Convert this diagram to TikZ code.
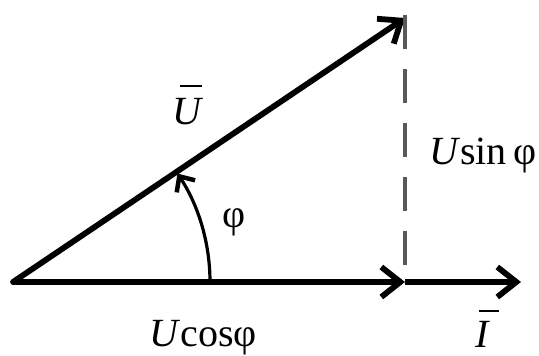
\documentclass[tikz,border=0pt]{standalone}
\usepackage{fontspec}
\setmainfont{Liberation Serif}
\usetikzlibrary{arrows.meta}
\newcommand\ovbar[4]{\leavevmode\rlap{\hspace{#2}\rule[#3]{#4}{0.05em}}#1}
\begin{document}
\begin{tikzpicture}[x=1pt,y=1pt,
  vec/.style={line width=5.8pt,-{Straight Barb[length=19pt,width=30pt,line width=5.8pt]}},
  angarc/.style={line width=3.2pt,-{Straight Barb[length=12pt,width=22pt,line width=4.5pt]}},
  proj/.style={line width=4pt,black!65,dash pattern=on 34pt off 20pt},
  lbl/.style={inner sep=0pt,anchor=base,font=\fontsize{40}{48}\selectfont}]
\useasboundingbox (0,0) rectangle (539,356);
\coordinate (O) at (13,74);
\coordinate (Ut) at (405,338);
\coordinate (P) at (405,74);
\coordinate (It) at (521,74);
\coordinate (Dt) at (405,341);
\draw[vec,line cap=round] (O) -- (Ut);
\draw[vec] (O) -- (P);
\draw[vec] (P) -- (It);
\draw[proj] (Dt) -- (P);
\coordinate (A0) at (210,74);
\draw[angarc] (A0) arc[start angle=0,end angle=33.4,radius=197];
\node[lbl] (lU) at (188,231) {\ovbar{\textit{U}}{0.2em}{0.95em}{0.55em}};
\node[lbl] (lsin) at (483,191) {\textit{U}sin\,φ};
\node[lbl] (lphi) at (234,128) {φ};
\node[lbl] (lcos) at (203,9) {\textit{U}cosφ};
\node[lbl] (lI) at (483,8) {\ovbar{\textit{I}}{0.08em}{0.9em}{0.5em}};
\end{tikzpicture}
\end{document}
